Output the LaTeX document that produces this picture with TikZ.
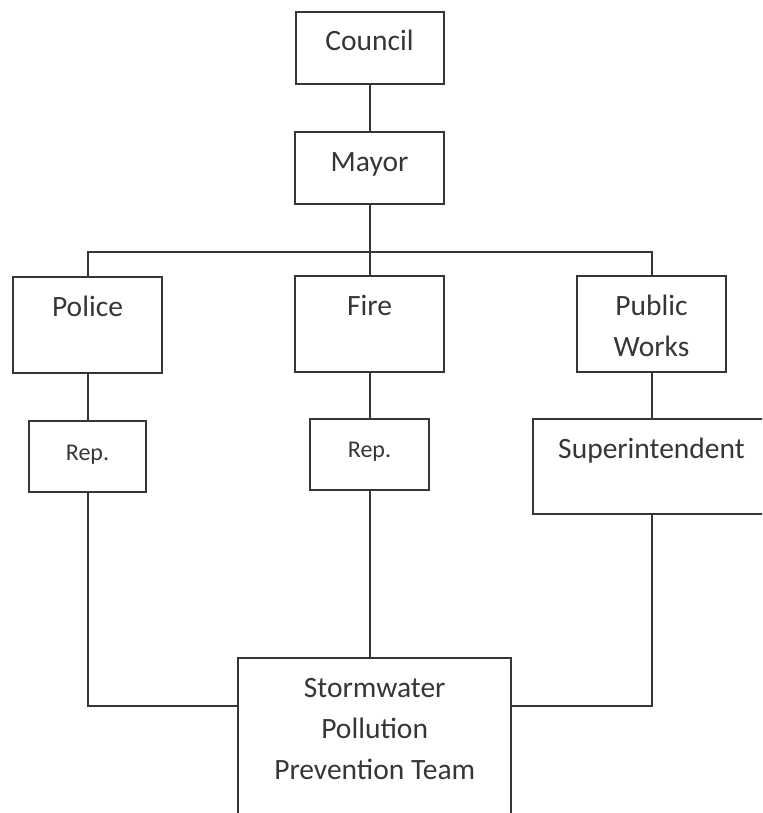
\documentclass[tikz,border=0pt]{standalone}
\usepackage{fontspec}
\setmainfont{Carlito}
\usetikzlibrary{positioning}
\definecolor{ink}{HTML}{363636}
\tikzset{
  unit/.style={draw=ink,line width=1pt,inner sep=0pt,text=ink,align=center,anchor=north,
    font=\fontsize{14.75}{20.7}\selectfont,text height=19.5pt},
  small/.style={font=\fontsize{12}{15}\selectfont},
  link/.style={draw=ink,line width=1pt}
}

\begin{document}
\begin{tikzpicture}[x=0.5pt,y=-0.5pt]
\clip (0,0) rectangle (762,813);

% Top of the chart
\node[unit,minimum width=74pt,text depth=16.8pt] (council) at (369.5,10.7) {Council};
\node[unit,minimum width=74.5pt,text depth=16.35pt] (mayor) at (369.5,131) {Mayor};

% Departments
\node[unit,minimum width=74.8pt,text depth=28.35pt] (police) at (87.5,276) {Police};
\node[unit,minimum width=74.3pt,text depth=28.35pt] (fire) at (369.5,275) {Fire};
\node[unit,minimum width=74.5pt,text height=40.2pt,text depth=7.65pt] (publicworks) at (651.5,275) {Public\\Works};

% Representatives
\node[unit,small,minimum width=58.5pt,text depth=15.85pt] (rep1) at (87.5,420) {Rep.};
\node[unit,small,minimum width=59.65pt,text depth=16.3pt] (rep2) at (369.5,417.7) {Rep.};
\node[unit,minimum width=119pt,text depth=28pt] (super) at (651.5,418.3) {Superintendent};

% Team
\node[unit,minimum width=136.65pt,text height=60.9pt,text depth=29.1pt] (storm) at (374.7,657) {Stormwater\\Pollution\\Prevention Team};

% Lines of the chart
\coordinate (bus) at (369.5,251.5);
\path (storm.north west) ++(0,48.5) coordinate (stormW);
\path (storm.north east) ++(0,48.5) coordinate (stormE);
\draw[link] (council) -- (mayor);
\draw[link] (mayor) -- (fire);
\draw[link] (police) |- (bus) -| (publicworks);
\draw[link] (police) -- (rep1);
\draw[link] (fire) -- (rep2);
\draw[link] (publicworks) -- (super);
\draw[link] (rep1) |- (stormW);
\draw[link] (rep2) -- (rep2 |- storm.north);
\draw[link] (super) |- (stormE);
\end{tikzpicture}
\end{document}
